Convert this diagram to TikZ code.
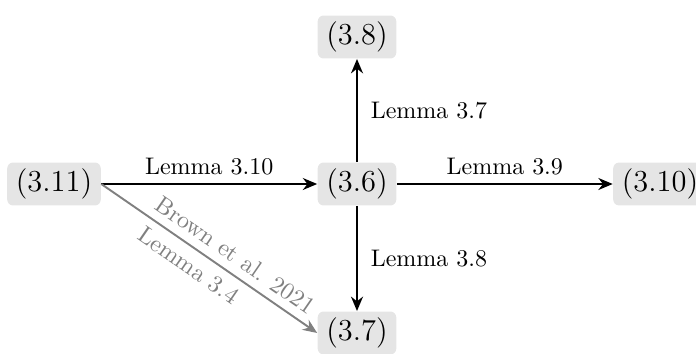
\documentclass[tikz,border=0pt]{standalone}
\usetikzlibrary{arrows.meta}
\begin{document}
\begin{tikzpicture}[x=0.4167pt, y=-0.4167pt,
  eqbox/.style={fill=gray!20, rounded corners=2.5pt, inner xsep=3.6pt, inner ysep=2.6pt, font=\fontsize{12.7}{15}\selectfont},
  implies/.style={thick, -{Stealth[length=6pt, width=5pt]}},
  citeimpl/.style={implies, gray},
  lbl/.style={font=\normalsize}]
  \useasboundingbox (0,0) rectangle (696,354);

  % equation nodes
  \node[eqbox] (e311) at (54,184)  {(3.11)};
  \node[eqbox] (e36)  at (357,184) {(3.6)};
  \node[eqbox] (e38)  at (357,37)  {(3.8)};
  \node[eqbox] (e310) at (660,184) {(3.10)};
  \node[eqbox] (e37)  at (357,333) {(3.7)};

  % implications
  \draw[implies] (e311) -- node[lbl, above] {Lemma 3.10} (e36);
  \draw[implies] (e36) -- node[lbl, above] {Lemma 3.9} (e310);
  \draw[implies] (e36) -- node[lbl, right, xshift=2pt] {Lemma 3.7} (e38);
  \draw[implies] (e36) -- node[lbl, right, xshift=2pt] {Lemma 3.8} (e37);
  \draw[citeimpl] (e311.east) --
     node[lbl, sloped, above, pos=0.575] {Brown et al. 2021}
     node[lbl, sloped, below, pos=0.45] {Lemma 3.4} (e37.west);
\end{tikzpicture}
\end{document}
